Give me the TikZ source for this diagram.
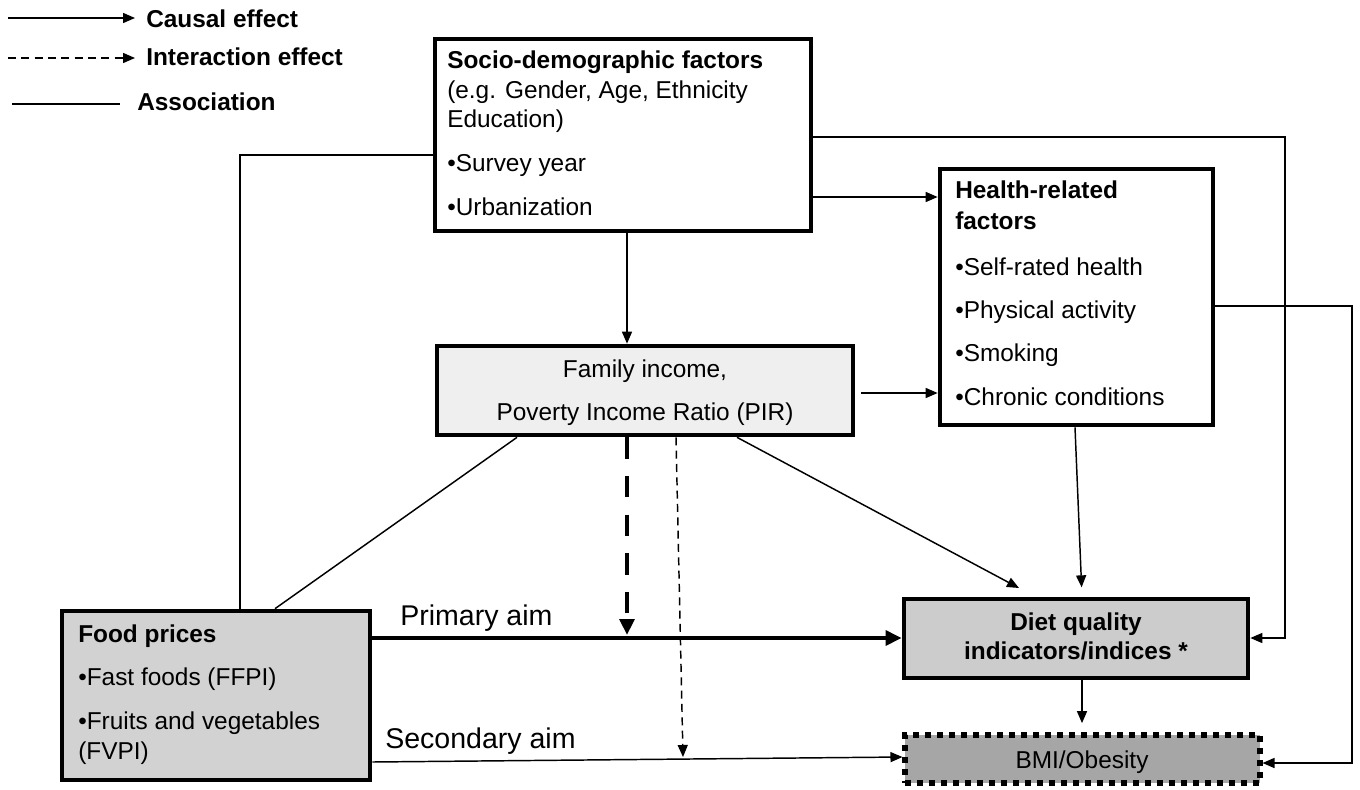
\documentclass[tikz,border=0pt]{standalone}
\usepackage{fontspec}
\setmainfont{Liberation Sans}
\usetikzlibrary{arrows.meta}
\definecolor{famfill}{HTML}{EFEFEF}
\definecolor{foodfill}{HTML}{D2D2D2}
\definecolor{dietfill}{HTML}{CCCCCC}
\definecolor{bmifill}{HTML}{A6A6A6}
\begin{document}
\begin{tikzpicture}[x=0.75pt,y=-0.75pt,
  box/.style={draw, line width=3.5pt, inner sep=0pt},
  sz/.style 2 args={minimum width=#1*0.75pt, minimum height=#2*0.75pt},
  txt/.style={anchor=base west, inner sep=0pt, font=\fontsize{18.3}{22}\selectfont},
  btxt/.style={anchor=base west, inner sep=0pt, font=\fontsize{18.3}{22}\selectfont\bfseries},
  ctxt/.style={anchor=base, inner sep=0pt, font=\fontsize{18.3}{22}\selectfont},
  cbtxt/.style={anchor=base, inner sep=0pt, font=\fontsize{18.3}{22}\selectfont\bfseries},
  lbl/.style={anchor=base west, inner sep=0pt, font=\fontsize{21.4}{25}\selectfont},
  thinline/.style={line width=1.1pt},
  arr/.style={-{Triangle[length=9pt,width=7.5pt]}},
  bigarr/.style={-{Triangle[length=12pt,width=11pt]}},
  smalldash/.style={dash pattern=on 6pt off 4pt},
]
\useasboundingbox (0,0) rectangle (1360,789);

% ---------- legend ----------
\coordinate (l1a) at (8,18);   \coordinate (l1b) at (135,18);
\coordinate (l2a) at (8,58);   \coordinate (l2b) at (135,58);
\coordinate (l3a) at (12,104); \coordinate (l3b) at (120,104);
\draw[thinline,arr] (l1a) -- (l1b);
\draw[thinline,arr,smalldash] (l2a) -- (l2b);
\draw[thinline] (l3a) -- (l3b);
\node[btxt] (lg1) at (146,27) {Causal effect};
\node[btxt] (lg2) at (146,65) {Interaction effect};
\node[btxt] (lg3) at (137,110) {Association};

% ---------- boxes ----------
\node[box, fill=white, sz={376}{192}] (socio) at (623,135) {};
\node[box, fill=white, sz={273}{256}] (health) at (1076.5,297) {};
\node[box, fill=famfill, sz={416}{89}] (family) at (645,390.5) {};
\node[box, fill=foodfill, sz={308}{169}] (food) at (216,695.5) {};
\node[box, fill=dietfill, sz={344}{79}] (diet) at (1076,638.5) {};
\node[draw, line width=3.8pt, dash pattern=on 4.5pt off 4.5pt, fill=bmifill, inner sep=0pt, sz={355}{48}] (bmi) at (1082.5,759) {};

% ---------- box texts ----------
\node[btxt] (s1) at (447,68) {Socio-demographic factors};
\node[txt] (s2) at (447,98) {(e.g. Gender, Age, Ethnicity};
\node[txt] (s3) at (447,127) {Education)};
\node[txt] (s4) at (447,171) {•Survey year};
\node[txt] (s5) at (447,215) {•Urbanization};

\node[btxt] (h1) at (955,198) {Health-related};
\node[btxt] (h2) at (955,229) {factors};
\node[txt] (h3) at (955,275) {•Self-rated health};
\node[txt] (h4) at (955,318) {•Physical activity};
\node[txt] (h5) at (955,361) {•Smoking};
\node[txt] (h6) at (955,405) {•Chronic conditions};

\node[ctxt] (fa1) at (645,377) {Family income,};
\node[ctxt] (fa2) at (645,420) {Poverty Income Ratio (PIR)};

\node[btxt] (fo1) at (78,642) {Food prices};
\node[txt] (fo2) at (78,685) {•Fast foods (FFPI)};
\node[txt] (fo3) at (78,729) {•Fruits and vegetables};
\node[txt] (fo4) at (78,759) {(FVPI)};

\node[cbtxt] (d1) at (1076,630) {Diet quality};
\node[cbtxt] (d2) at (1076,659) {indicators/indices *};

\node[ctxt] (b1) at (1082,768) {BMI/Obesity};

\node[lbl] (pa) at (400,625) {Primary aim};
\node[lbl] (sa) at (385,748) {Secondary aim};

% ---------- helper coordinates ----------
\coordinate (x627) at (627,0);
\coordinate (x676) at (676,0);
\coordinate (x737) at (737,0);
\coordinate (x517) at (517,0);
\coordinate (x275) at (275,0);
\coordinate (x1075) at (1075,0);
\coordinate (x1082) at (1082,0);
\coordinate (y197) at (0,197);
\coordinate (y393) at (0,393);
\coordinate (y638) at (0,638);
\coordinate (y762) at (0,762);
\coordinate (y757) at (0,757);
\coordinate (r1) at (1285,137);
\coordinate (r2) at (1285,638);
\coordinate (q1) at (1352,306);
\coordinate (q2) at (1352,763);
\coordinate (a1) at (240,155);
\coordinate (dj) at (1019,588);
\coordinate (pj) at (627,635);
\coordinate (sj) at (683,757);

% ---------- connectors ----------
\draw[thinline,arr] (socio.south -| x627) -- (family.north -| x627);
\draw[thinline,arr] (socio.east |- y197) -- (health.west |- y197);
\draw[thinline,arr] (socio.east |- r1) -- (r1) -- (r2) -- (diet.east |- r2);
\draw[thinline] (socio.west |- a1) -- (a1) -- (food.north -| a1);
\draw[thinline,arr] (health.east |- q1) -- (q1) -- (q2) -- (bmi.east |- q2);
\draw[thinline,arr] (family.east |- y393) ++(6,0) -- (health.west |- y393);
\draw[thinline] (family.south -| x517) -- (food.north -| x275);
\draw[thinline,arr] (family.south -| x737) -- (dj);
\draw[thinline,arr,shorten >=7pt] (health.south -| x1075) -- (diet.north -| x1082);
\draw[thinline,arr,shorten >=7pt] (diet.south -| x1082) -- (bmi.north -| x1082);
\draw[line width=3.6pt,bigarr,dash pattern=on 16pt off 13pt] (family.south -| x627) -- (pj);
\draw[thinline,arr,smalldash] (family.south -| x676) -- (sj);
\draw[line width=3.4pt,bigarr] (food.east |- y638) -- (diet.west |- y638);
\draw[thinline,arr] (food.east |- y762) -- (bmi.west |- y757);
\end{tikzpicture}
\end{document}
